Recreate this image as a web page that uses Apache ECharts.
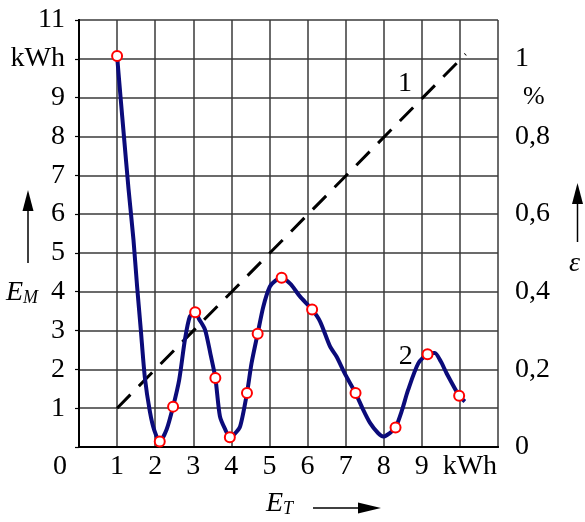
<!DOCTYPE html>
<html><head><meta charset="utf-8">
<script src="https://cdn.jsdelivr.net/npm/echarts@6/dist/echarts.min.js"></script>
<style>html,body{margin:0;padding:0;background:#fff}#c{width:585px;height:522px}</style>
</head><body><div id="c"></div>
<script>
// Curve 2 (traced through the picture), E_M in kWh vs E_T in kWh
const curveX = [1.00,1.09,1.18,1.30,1.43,1.52,1.62,1.73,1.86,1.98,2.12,2.30,2.47,2.63,2.78,2.91,3.05,3.15,3.31,3.45,3.58,3.70,3.84,3.96,4.08,4.23,4.41,4.53,4.69,4.84,5.01,5.15,5.32,5.55,5.80,6.12,6.33,6.59,6.76,7.00,7.26,7.45,7.64,7.85,7.99,8.16,8.31,8.48,8.64,8.91,9.15,9.34,9.50,9.65,9.98,10.13];
const curveY = [10.07,9.02,8.00,6.65,5.34,4.20,3.05,1.78,0.92,0.42,0.14,0.45,1.04,1.73,2.76,3.36,3.47,3.30,3.02,2.40,1.78,0.79,0.45,0.25,0.33,0.53,1.39,2.16,2.92,3.62,4.13,4.28,4.36,4.20,3.88,3.54,3.23,2.59,2.33,1.85,1.39,0.98,0.62,0.36,0.27,0.36,0.50,0.95,1.47,2.16,2.39,2.42,2.20,1.90,1.32,1.17];
// measured points (red circles)
const markerX = [1.00,2.12,2.47,3.05,3.58,3.96,4.41,4.69,5.32,6.12,7.26,8.31,9.15,9.98];
const markerY = [10.07,0.14,1.04,3.47,1.78,0.25,1.39,2.92,4.36,3.54,1.39,0.50,2.39,1.32];
// line 1 (dashed, relative error)
const line1X = [1.00, 10.15];
const line1Y = [1.00, 10.12];
// curve tags
const tagText = ['1', '2'];
const tagX = [8.56, 8.58];
const tagY = [9.35, 2.33];
// tick labels
const xTickLabels = ['0','1','2','3','4','5','6','7','8','9','kWh',''];
const yLeftLabels = ['','1','2','3','4','5','6','7','8','9','kWh','11'];
const yRightLabels = ['0','','0,2','','0,4','','0,6','','0,8','%','1',''];

const FONT = 'Liberation Serif';
const FS = 28;
const chart = echarts.init(document.getElementById('c'), null, {renderer:'canvas'});
const gridColor = '#3a3a3a';
const option = {
  backgroundColor: '#fff',
  animation: false,
  textStyle: {fontFamily: FONT},
  grid: {left: 79, right: 87, top: 20, bottom: 75},
  xAxis: [{
    type: 'value', min: 0, max: 11, interval: 1,
    axisLine: {show: true, onZero: false, lineStyle: {color: '#000', width: 2}},
    axisTick: {show: false},
    splitLine: {show: true, lineStyle: {color: gridColor, width: 1.5}},
    axisLabel: {
      margin: 6, color: '#000', fontFamily: FONT, fontSize: FS,
      formatter: function (v) {
        const i = Math.round(v);
        if (i === 0) return '{o|' + xTickLabels[i] + '}';
        if (i === 10) return '{k|' + xTickLabels[i] + '}';
        return xTickLabels[i];
      },
      rich: {
        o: {fontFamily: FONT, fontSize: FS, color: '#000', padding: [0, 38, 0, 0]},
        k: {fontFamily: FONT, fontSize: FS, color: '#000', padding: [0, 0, 0, 20]}
      }
    }
  }, {
    type: 'value', position: 'top', min: 0, max: 11, interval: 1,
    axisLine: {show: true, lineStyle: {color: '#000', width: 2}},
    axisTick: {show: false}, axisLabel: {show: false}, splitLine: {show: false}
  }],
  yAxis: [{
    type: 'value', min: 0, max: 11, interval: 1, position: 'left',
    axisLine: {show: true, onZero: false, lineStyle: {color: '#000', width: 2}},
    axisTick: {show: true, length: 4, lineStyle: {color: '#000', width: 1.2}},
    splitLine: {show: true, lineStyle: {color: gridColor, width: 1.5}},
    axisLabel: {
      margin: 14, color: '#000', fontFamily: FONT, fontSize: FS,
      formatter: function (v) { return yLeftLabels[Math.round(v)]; }
    }
  }, {
    type: 'value', min: 0, max: 1.1, interval: 0.1, position: 'right',
    axisLine: {show: true, lineStyle: {color: '#000', width: 2}},
    axisTick: {show: false}, splitLine: {show: false},
    axisLabel: {
      margin: 17, color: '#000', fontFamily: FONT, fontSize: FS,
      formatter: function (v) {
        const i = Math.round(v * 10);
        if (yRightLabels[i] === '%') return '{p|%}';
        return yRightLabels[i];
      },
      rich: {p: {fontFamily: FONT, fontSize: 26, color: '#000', padding: [0, 0, 0, 8]}}
    }
  }],
  series: [{
    type: 'line', data: line1X.map((x, i) => [x, line1Y[i]]),
    showSymbol: false, symbol: 'none',
    lineStyle: {color: '#000', width: 3, type: [19, 12]}, z: 3
  }, {
    type: 'line', data: curveX.map((x, i) => [x, curveY[i]]),
    showSymbol: false, symbol: 'none', smooth: 0.25,
    lineStyle: {color: '#0b0b7a', width: 4}, z: 4
  }, {
    type: 'scatter', data: markerX.map((x, i) => [x, markerY[i]]),
    symbol: 'circle', symbolSize: 10,
    itemStyle: {color: '#fff', borderColor: '#ff0000', borderWidth: 2, opacity: 1}, z: 5
  }, {
    type: 'scatter', data: tagX.map((x, i) => ({value: [x, tagY[i]], name: tagText[i]})),
    symbolSize: 0, itemStyle: {color: '#000', opacity: 1},
    label: {show: true, position: 'inside', formatter: p => p.name, color: '#000',
      textBorderWidth: 0, fontFamily: FONT, fontSize: FS},
    z: 6
  }],
  graphic: [
    // E_M label and arrow
    {type: 'text', left: 6, top: 279, style: {
      text: '{e|E}{s|M}', rich: {
        e: {fontFamily: FONT, fontStyle: 'italic', fontSize: FS, fill: '#000'},
        s: {fontFamily: FONT, fontStyle: 'italic', fontSize: 18, fill: '#000', padding: [11, 0, 0, 0]}
      }}},
    {type: 'line', shape: {x1: 28, y1: 263, x2: 28, y2: 205}, style: {stroke: '#000', lineWidth: 1.5}},
    {type: 'polygon', shape: {points: [[28, 190], [22.5, 211], [33.5, 211]]}, style: {fill: '#000'}},
    // epsilon label and arrow
    {type: 'text', left: 569, top: 250, style: {text: 'ε', fontFamily: FONT, fontStyle: 'italic', fontSize: FS, fill: '#000'}},
    {type: 'line', shape: {x1: 577.5, y1: 242, x2: 577.5, y2: 198}, style: {stroke: '#000', lineWidth: 1.5}},
    {type: 'polygon', shape: {points: [[577.5, 183], [572, 204], [583, 204]]}, style: {fill: '#000'}},
    // E_T label and arrow
    {type: 'text', left: 266, top: 490, style: {
      text: '{e|E}{s|T}', rich: {
        e: {fontFamily: FONT, fontStyle: 'italic', fontSize: FS, fill: '#000'},
        s: {fontFamily: FONT, fontStyle: 'italic', fontSize: 18, fill: '#000', padding: [11, 0, 0, 0]}
      }}},
    {type: 'line', shape: {x1: 313, y1: 508, x2: 362, y2: 508}, style: {stroke: '#000', lineWidth: 1.5}},
    {type: 'polygon', shape: {points: [[381, 508], [358, 502.5], [358, 513.5]]}, style: {fill: '#000'}}
  ]
};
chart.setOption(option);
</script></body></html>
